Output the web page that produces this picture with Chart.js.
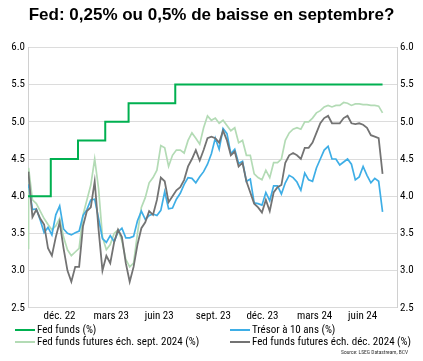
<!DOCTYPE html>
<html>
<head>
<meta charset="utf-8">
<script src="https://cdn.jsdelivr.net/npm/chart.js@4.4.1/dist/chart.umd.min.js"></script>
<style>
  body { margin: 0; background: #fff; }
  canvas { display: block; }
</style>
</head>
<body>
<canvas id="chart" width="423" height="361"></canvas>
<script>
// Fed funds target (upper bound), changes at each FOMC decision
const fedDates = ['2022-11-03', '2022-12-14', '2023-02-01', '2023-03-22', '2023-05-03', '2023-07-26', '2024-08-02'];
const fedRates = [4.0, 4.5, 4.75, 5.0, 5.25, 5.5, 5.5];

// weekly observations (first point 3 nov. 2022, then each friday up to 2 août 2024)
const firstDate = '2022-11-03';
const weeklyStart = '2022-11-04';
const weeklyEnd = '2024-08-02';

const treasury10y = [4.12, 4.16, 3.82, 3.83, 3.68, 3.51, 3.58, 3.48, 3.75, 3.87, 3.56, 3.50, 3.48, 3.51, 3.53, 3.74,
  3.82, 3.95, 3.96, 3.70, 3.43, 3.38, 3.47, 3.39, 3.52, 3.57, 3.44, 3.44, 3.46, 3.67, 3.80, 3.69, 3.74, 3.76, 3.74,
  3.81, 4.06, 3.83, 3.84, 3.96, 4.04, 4.16, 4.25, 4.24, 4.18, 4.26, 4.33, 4.43, 4.57, 4.78, 4.63, 4.91, 4.84, 4.57,
  4.63, 4.44, 4.47, 4.20, 4.23, 3.91, 3.90, 3.88, 4.05, 3.94, 4.14, 4.14, 4.03, 4.18, 4.28, 4.25, 4.19, 4.08, 4.31,
  4.22, 4.20, 4.38, 4.50, 4.62, 4.67, 4.50, 4.50, 4.42, 4.46, 4.50, 4.43, 4.22, 4.26, 4.40, 4.28, 4.18, 4.24, 4.20, 3.79];

const futuresSep24 = [3.30, 4.38, 3.95, 3.90, 3.80, 3.70, 3.62, 3.55, 3.60, 3.70, 3.45, 3.28, 3.20, 3.25, 3.30, 3.75,
  3.95, 4.15, 4.50, 4.10, 3.45, 3.28, 3.35, 3.50, 3.55, 3.40, 3.15, 3.05, 3.10, 3.50, 3.85, 3.98, 4.18, 4.25, 4.35,
  4.68, 4.65, 4.40, 4.55, 4.62, 4.62, 4.58, 4.75, 4.85, 4.78, 4.70, 4.92, 5.08, 5.02, 5.05, 4.98, 5.02, 4.95, 4.88,
  4.92, 4.72, 4.75, 4.55, 4.55, 4.30, 4.25, 4.22, 4.35, 4.25, 4.45, 4.45, 4.50, 4.75, 4.85, 4.90, 4.92, 4.90, 5.00,
  5.00, 5.05, 5.12, 5.15, 5.20, 5.22, 5.20, 5.22, 5.22, 5.26, 5.25, 5.22, 5.24, 5.24, 5.23, 5.23, 5.22, 5.22, 5.21, 5.12];

const futuresDec24 = [4.33, 4.30, 3.72, 3.82, 3.70, 3.62, 3.30, 3.20, 3.45, 3.65, 3.30, 3.00, 2.85, 3.05, 3.05, 3.60,
  3.80, 3.85, 4.20, 3.55, 3.00, 3.20, 3.10, 3.38, 3.55, 3.45, 3.10, 2.85, 3.05, 3.35, 3.57, 3.65, 3.80, 3.75, 3.95,
  4.25, 4.20, 3.92, 4.00, 4.08, 4.12, 4.22, 4.40, 4.50, 4.62, 4.48, 4.62, 4.78, 4.80, 4.78, 4.72, 4.88, 4.75, 4.55,
  4.60, 4.40, 4.45, 4.20, 4.05, 3.90, 3.85, 3.78, 3.95, 3.80, 4.05, 4.12, 4.15, 4.45, 4.55, 4.58, 4.55, 4.50, 4.65,
  4.65, 4.72, 4.85, 4.98, 5.05, 5.08, 4.98, 4.98, 4.98, 5.05, 5.08, 4.98, 4.97, 4.98, 4.96, 4.92, 4.82, 4.80, 4.78, 4.30];

const xTickDates = ['2022-12-01', '2023-03-01', '2023-06-01', '2023-09-01', '2023-12-01', '2024-03-01', '2024-06-01'];
const xTickLabels = ['déc. 22', 'mars 23', 'juin 23', 'sept. 23', 'déc. 23', 'mars 24', 'juin 24'];
const xMin = '2022-11-03';
const xMax = '2024-08-28';

const DAY = 86400000;
const obsDates = [firstDate];
for (let t = Date.parse(weeklyStart); t <= Date.parse(weeklyEnd); t += 7 * DAY) obsDates.push(t);

function toPoints(dates, values) {
  return values.map((v, i) => ({ x: typeof dates[i] === 'string' ? Date.parse(dates[i]) : dates[i], y: v }));
}

const NARROW = "'Liberation Sans Narrow', 'Arial Narrow', 'Roboto Condensed', sans-serif";

// legend drawn in two columns, plus the source line
const legendGrid = {
  id: 'legendGrid',
  afterDraw(chart) {
    const ctx = chart.ctx;
    const cols = [15, 230];
    const rows = [330, 342];
    ctx.save();
    ctx.font = '11px ' + NARROW;
    ctx.textBaseline = 'middle';
    ctx.textAlign = 'left';
    chart.data.datasets.forEach(function(ds) {
      const col = cols[ds.legendSlot % 2];
      const row = rows[Math.floor(ds.legendSlot / 2)];
      ctx.strokeStyle = ds.borderColor;
      ctx.lineWidth = 2;
      ctx.beginPath();
      ctx.moveTo(col, row);
      ctx.lineTo(col + 20, row);
      ctx.stroke();
      ctx.fillStyle = '#000';
      ctx.fillText(ds.label, col + 22, row + 0.5);
    });
    ctx.font = '5.5px ' + NARROW;
    ctx.textAlign = 'right';
    ctx.fillStyle = '#333';
    ctx.fillText('Source: LSEG Datastream, BCV', 408, 353);
    ctx.restore();
  }
};

new Chart(document.getElementById('chart'), {
  type: 'line',
  data: {
    datasets: [
      {
        label: 'Fed funds (%)',
        data: toPoints(fedDates, fedRates),
        borderColor: '#00b050',
        borderWidth: 2,
        stepped: 'before',
        order: 0,
        legendSlot: 0
      },
      {
        label: 'Fed funds futures éch. déc. 2024 (%)',
        data: toPoints(obsDates, futuresDec24),
        borderColor: '#737373',
        borderWidth: 1.8,
        order: 1,
        legendSlot: 3
      },
      {
        label: 'Trésor à 10 ans (%)',
        data: toPoints(obsDates, treasury10y),
        borderColor: '#3eaee6',
        borderWidth: 1.7,
        order: 2,
        legendSlot: 1
      },
      {
        label: 'Fed funds futures éch. sept. 2024 (%)',
        data: toPoints(obsDates, futuresSep24),
        borderColor: '#b3dbb5',
        borderWidth: 1.7,
        order: 3,
        legendSlot: 2
      }
    ]
  },
  options: {
    responsive: false,
    animation: false,
    devicePixelRatio: 1,
    elements: { point: { radius: 0 }, line: { tension: 0 } },
    layout: { padding: { left: 0, right: 0, top: 0, bottom: 36 } },
    plugins: {
      legend: { display: false },
      tooltip: { enabled: false },
      title: {
        display: true,
        text: 'Fed: 0,25% ou 0,5% de baisse en septembre?',
        color: '#000',
        font: { family: "'Liberation Sans', Arial, sans-serif", size: 17, weight: 'bold' },
        padding: { top: 5, bottom: 22 }
      }
    },
    scales: {
      x: {
        type: 'linear',
        min: Date.parse(xMin),
        max: Date.parse(xMax),
        afterBuildTicks: function(scale) {
          scale.ticks = xTickDates.map(d => ({ value: Date.parse(d) }));
        },
        ticks: {
          autoSkip: false,
          maxRotation: 0,
          align: 'start',
          padding: 2,
          color: '#000',
          font: { family: NARROW, size: 11 },
          callback: function(value, index) { return xTickLabels[index]; }
        },
        grid: { display: false, drawTicks: false },
        border: { color: '#d9d9d9', width: 1 }
      },
      y: {
        position: 'left',
        min: 2.5,
        max: 6,
        ticks: {
          stepSize: 0.5,
          color: '#000',
          padding: 3,
          font: { family: NARROW, size: 11 },
          callback: v => v.toFixed(1)
        },
        grid: { color: '#dcdcdc', lineWidth: 1, drawTicks: false },
        border: { color: '#d0d0d0' },
        afterFit: function(scale) { scale.width = 28; }
      },
      y2: {
        position: 'right',
        min: 2.5,
        max: 6,
        ticks: {
          stepSize: 0.5,
          color: '#000',
          padding: 3,
          font: { family: NARROW, size: 11 },
          callback: v => v.toFixed(1)
        },
        grid: { display: false, drawTicks: false },
        border: { color: '#d0d0d0' },
        afterFit: function(scale) { scale.width = 26; }
      }
    }
  },
  plugins: [legendGrid]
});
</script>
</body>
</html>
